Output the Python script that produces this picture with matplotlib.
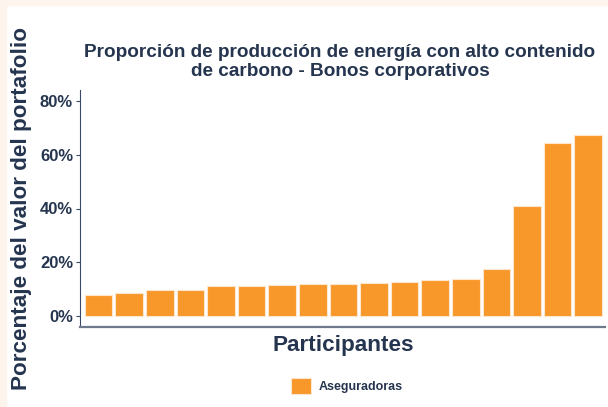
import matplotlib
matplotlib.use("Agg")
import matplotlib.pyplot as plt
from matplotlib.patches import Rectangle

participants = list(range(1, 18))
values = [7.8, 8.5, 9.6, 9.6, 11.0, 11.3, 11.5, 11.9, 11.9, 12.3, 12.7, 13.4, 13.8, 17.4, 41.0, 64.4, 67.2]
yticks = [0, 20, 40, 60, 80]
ytick_labels = ["0%", "20%", "40%", "60%", "80%"]
series_name = "Aseguradoras"

navy = "#26354f"
orange = "#F8972A"

plt.rcParams['font.family'] = ['Liberation Sans', 'DejaVu Sans']

fig = plt.figure(figsize=(6.08, 4.07), dpi=100)
fig.patch.set_facecolor("white")
# background strips (cropped page)
fig.patches.append(Rectangle((0, 0), 6/608, 1, transform=fig.transFigure, color="#fdf4ee", zorder=0))
fig.patches.append(Rectangle((0, 1 - 5/407), 1, 5/407, transform=fig.transFigure, color="#fdf4ee", zorder=0))

ax = fig.add_axes([80/608, 1 - 327/407, (605 - 80)/608, (327 - 90)/407])
ax.bar(participants, values, width=0.9, color=orange, edgecolor="#fde6cc", linewidth=0.8, label=series_name)
ax.set_xlim(0.39, 17.55)
ax.set_ylim(-4.1, 84.1)
ax.set_yticks(yticks)
ax.set_yticklabels(ytick_labels, fontsize=12, fontweight="bold", color=navy)
ax.set_xticks([])
for s in ["top", "right"]:
    ax.spines[s].set_visible(False)
ax.spines["left"].set_color("#3a4a66")
ax.spines["bottom"].set_color("#6e7a8c")
ax.spines["bottom"].set_linewidth(1.6)
ax.tick_params(axis="y", colors="#3a4a66", length=3, labelcolor=navy, pad=2)

fig.text(343/608, 1 - 345/407, "Participantes", fontsize=16.2, fontweight="bold", color=navy,
         ha="center", va="center")
fig.text(22/608, 1 - 209/407, "Porcentaje del valor del portafolio", rotation=90, fontsize=16.2,
         fontweight="bold", color=navy, ha="center", va="center")
fig.text(340/608, 1 - 62/407, "Proporción de producción de energía con alto contenido\nde carbono - Bonos corporativos",
         fontsize=13.7, fontweight="bold", color=navy, ha="center", va="center", linespacing=1.1)

leg = fig.legend(loc="center", bbox_to_anchor=(347/608, 1 - 386/407), frameon=False,
                 prop={"weight": "bold", "size": 9}, handlelength=1.6, handleheight=1.6, handletextpad=0.6)
for t in leg.get_texts():
    t.set_color(navy)

fig.savefig("out.png", dpi=100)
